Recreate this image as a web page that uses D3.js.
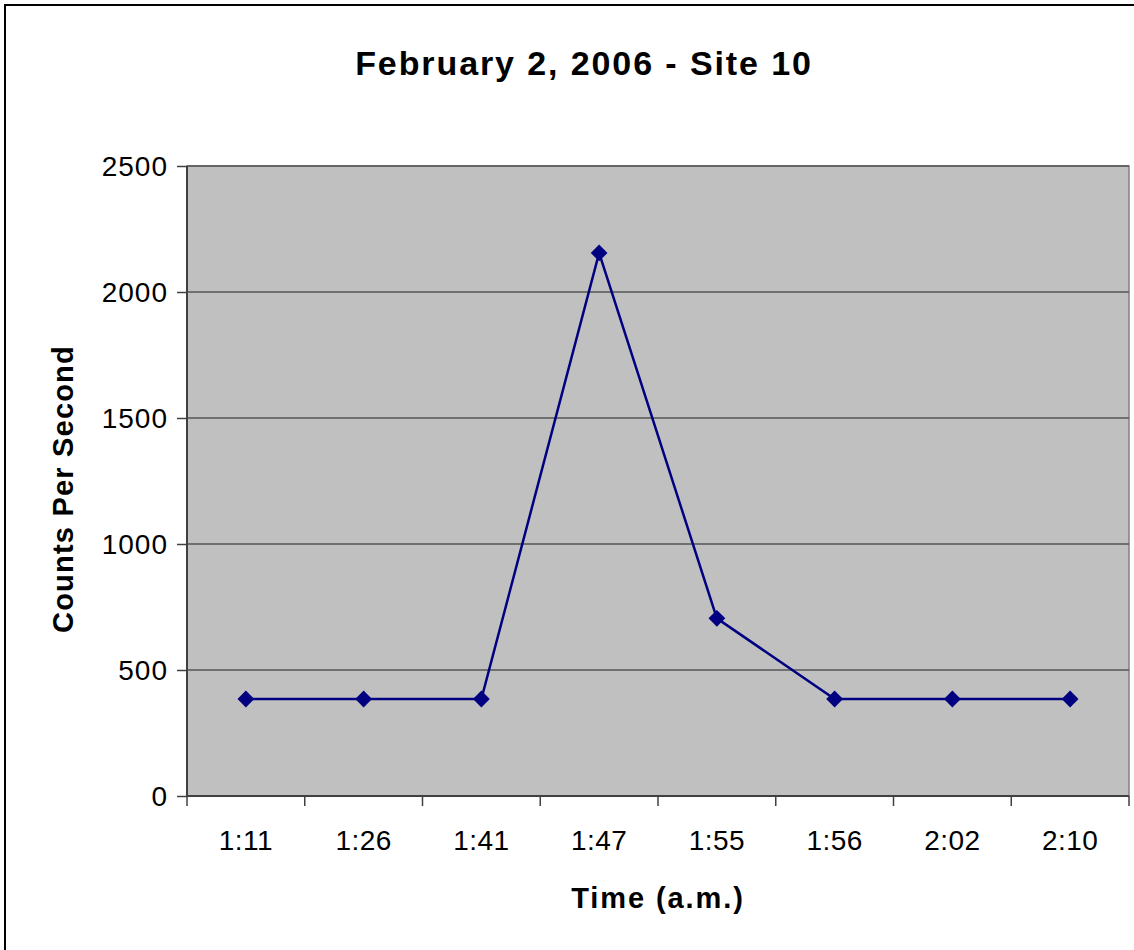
<!DOCTYPE html>
<html>
<head>
<meta charset="utf-8">
<script src="https://cdn.jsdelivr.net/npm/d3@7"></script>
<style>
  body { margin: 0; background: #fff; }
  svg { display: block; font-family: "Liberation Sans", Arial, sans-serif; }
</style>
</head>
<body>
<div class="chart"></div>
<script>
// data
var times = ["1:11", "1:26", "1:41", "1:47", "1:55", "1:56", "2:02", "2:10"];
var counts = [385, 385, 385, 2155, 705, 385, 385, 385];
var yTicks = [0, 500, 1000, 1500, 2000, 2500];

var W = 1134, H = 950;
var margin = { top: 166, right: 5, bottom: 154, left: 187 };
var width = W - margin.left - margin.right, height = H - margin.top - margin.bottom;

var svg = d3.select(".chart").append("svg")
    .attr("width", W)
    .attr("height", H);

// outer frame (right/bottom run off the picture)
svg.append("rect")
    .attr("x", 5).attr("y", 5)
    .attr("width", W + 20).attr("height", H + 20)
    .attr("fill", "#fff")
    .attr("stroke", "#000")
    .attr("stroke-width", 2);

svg.append("text")
    .attr("x", 584).attr("y", 75)
    .attr("text-anchor", "middle")
    .attr("font-weight", "bold")
    .attr("font-size", 34)
    .attr("letter-spacing", 1.9)
    .text("February 2, 2006 - Site 10");

var g = svg.append("g")
    .attr("transform", "translate(" + margin.left + "," + margin.top + ")");

var x = d3.scaleBand().domain(times).range([0, width]);
var y = d3.scaleLinear().domain([0, 2500]).range([height, 0]);

// plot area
g.append("rect")
    .attr("width", width).attr("height", height)
    .attr("fill", "#c0c0c0")
    .attr("stroke", "#808080")
    .attr("stroke-width", 1.5);

// grid lines
g.selectAll(".grid").data(yTicks.filter(d => d > 0)).enter()
    .append("line")
    .attr("x1", 0).attr("x2", width)
    .attr("y1", d => y(d)).attr("y2", d => y(d))
    .attr("stroke", "#555")
    .attr("stroke-width", 1.5);

// y axis
var yAxis = g.append("g")
    .call(d3.axisLeft(y).tickValues(yTicks).tickFormat(d3.format("d")).tickSize(10).tickPadding(9));
yAxis.select(".domain").attr("stroke", "#404040").attr("stroke-width", 2).attr("d", "M0,0V" + height);
yAxis.selectAll(".tick line").attr("stroke", "#404040").attr("stroke-width", 1.5);
yAxis.selectAll("text").attr("font-size", 28).attr("fill", "#000")
    .attr("letter-spacing", 1)
    .attr("font-family", "Liberation Sans, Arial, sans-serif").attr("dy", "0.35em");

// x axis, ticks at band edges
var xAxis = g.append("g").attr("transform", "translate(0," + height + ")");
xAxis.append("line")
    .attr("x1", 0).attr("x2", width)
    .attr("stroke", "#404040").attr("stroke-width", 2);
xAxis.selectAll(".xt").data(times.concat(["end"])).enter()
    .append("line")
    .attr("x1", (d, i) => i * x.step()).attr("x2", (d, i) => i * x.step())
    .attr("y1", 0).attr("y2", 10)
    .attr("stroke", "#404040").attr("stroke-width", 1.5);
xAxis.selectAll(".xl").data(times).enter()
    .append("text")
    .attr("x", d => x(d) + x.bandwidth() / 2)
    .attr("y", 54)
    .attr("text-anchor", "middle")
    .attr("font-size", 28)
    .attr("letter-spacing", 0.5)
    .text(d => d);

// axis titles
svg.append("text")
    .attr("x", 658).attr("y", 908)
    .attr("text-anchor", "middle")
    .attr("font-weight", "bold")
    .attr("font-size", 29)
    .attr("letter-spacing", 1.9)
    .text("Time (a.m.)");

svg.append("text")
    .attr("transform", "translate(73,489) rotate(-90)")
    .attr("text-anchor", "middle")
    .attr("font-weight", "bold")
    .attr("font-size", 29)
    .attr("letter-spacing", 1.2)
    .text("Counts Per Second");

// series
var line = d3.line()
    .x((d, i) => x(times[i]) + x.bandwidth() / 2)
    .y(d => y(d));

g.append("path")
    .datum(counts)
    .attr("d", line)
    .attr("fill", "none")
    .attr("stroke", "#000080")
    .attr("stroke-width", 2.5);

g.selectAll(".pt").data(counts).enter()
    .append("path")
    .attr("d", d3.symbol(d3.symbolDiamond2, 180))
    .attr("transform", (d, i) => "translate(" + (x(times[i]) + x.bandwidth() / 2) + "," + y(d) + ")")
    .attr("fill", "#000080");
</script>
</body>
</html>
